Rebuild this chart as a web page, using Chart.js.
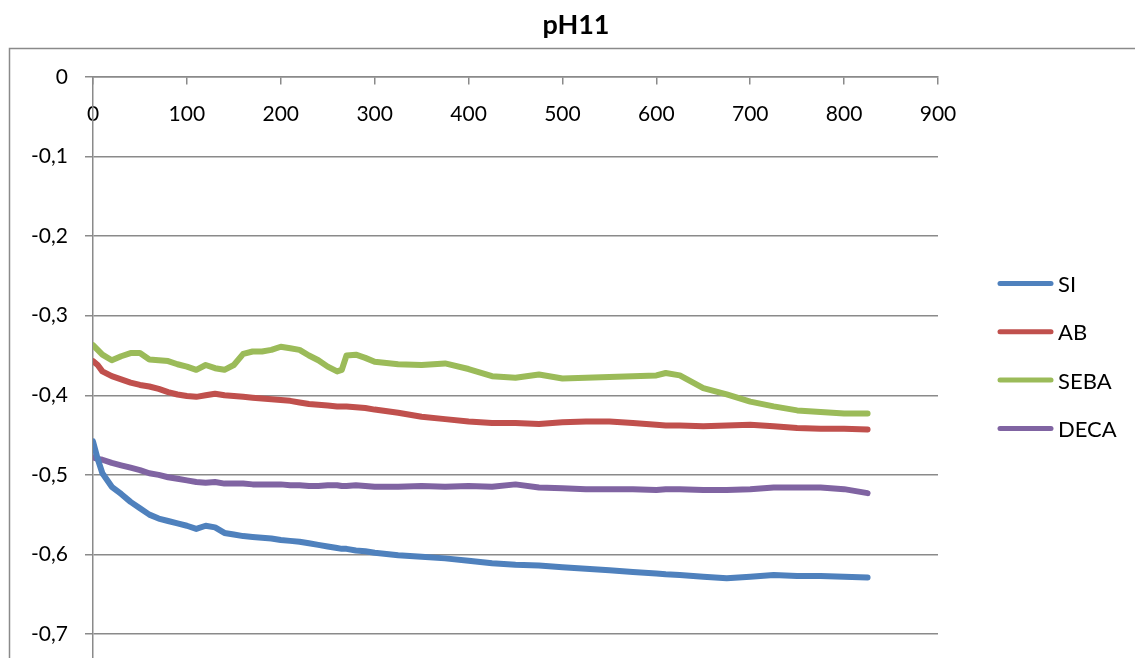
<!DOCTYPE html>
<html>
<head>
<meta charset="utf-8">
<script src="https://cdn.jsdelivr.net/npm/chart.js@4/dist/chart.umd.min.js"></script>
<style>
  html, body { margin: 0; padding: 0; background: #fff; overflow: hidden; }
  #wrap { width: 1135px; height: 658px; position: relative; }
</style>
</head>
<body>
<div id="wrap"><canvas id="c" width="1135" height="658"></canvas></div>
<script>
const chartTitle = 'pH11';
const seriesNames = ['SI', 'AB', 'SEBA', 'DECA'];
const seriesColors = ['#4F81BD', '#C0504D', '#9BBB59', '#8064A2'];
const xTicks = [0, 100, 200, 300, 400, 500, 600, 700, 800, 900];
const yTicks = [-0.7, -0.6, -0.5, -0.4, -0.3, -0.2, -0.1, 0];

const xValues = [0,5,10,20,30,40,50,60,70,80,90,100,110,120,130,140,150,160,170,180,190,200,210,220,230,240,250,260,265,270,280,290,300,325,350,375,400,425,450,475,500,525,550,575,600,610,625,650,675,700,725,750,775,800,825];

const siValues = [-0.458,-0.480,-0.498,-0.515,-0.524,-0.534,-0.542,-0.550,-0.555,-0.558,-0.561,-0.564,-0.568,-0.564,-0.566,-0.573,-0.575,-0.577,-0.578,-0.579,-0.580,-0.582,-0.583,-0.584,-0.586,-0.588,-0.590,-0.592,-0.593,-0.593,-0.595,-0.596,-0.598,-0.601,-0.603,-0.605,-0.608,-0.611,-0.613,-0.614,-0.616,-0.618,-0.620,-0.622,-0.624,-0.625,-0.626,-0.628,-0.630,-0.628,-0.626,-0.627,-0.627,-0.628,-0.629];

const abValues = [-0.357,-0.362,-0.370,-0.376,-0.380,-0.384,-0.387,-0.389,-0.392,-0.396,-0.399,-0.401,-0.402,-0.400,-0.398,-0.400,-0.401,-0.402,-0.403,-0.404,-0.405,-0.406,-0.407,-0.409,-0.411,-0.412,-0.413,-0.414,-0.414,-0.414,-0.415,-0.416,-0.418,-0.422,-0.427,-0.430,-0.433,-0.435,-0.435,-0.436,-0.434,-0.433,-0.433,-0.435,-0.437,-0.438,-0.438,-0.439,-0.438,-0.437,-0.439,-0.441,-0.442,-0.442,-0.443];

const sebaValues = [-0.337,-0.343,-0.349,-0.356,-0.351,-0.347,-0.347,-0.355,-0.356,-0.357,-0.361,-0.364,-0.368,-0.362,-0.366,-0.368,-0.362,-0.348,-0.345,-0.345,-0.343,-0.339,-0.341,-0.343,-0.350,-0.356,-0.364,-0.370,-0.368,-0.350,-0.349,-0.353,-0.358,-0.361,-0.362,-0.360,-0.367,-0.376,-0.378,-0.374,-0.379,-0.378,-0.377,-0.376,-0.375,-0.372,-0.375,-0.391,-0.399,-0.408,-0.414,-0.419,-0.421,-0.423,-0.423];

const decaValues = [-0.478,-0.480,-0.481,-0.485,-0.488,-0.491,-0.494,-0.498,-0.500,-0.503,-0.505,-0.507,-0.509,-0.510,-0.509,-0.511,-0.511,-0.511,-0.512,-0.512,-0.512,-0.512,-0.513,-0.513,-0.514,-0.514,-0.513,-0.513,-0.514,-0.514,-0.513,-0.514,-0.515,-0.515,-0.514,-0.515,-0.514,-0.515,-0.512,-0.516,-0.517,-0.518,-0.518,-0.518,-0.519,-0.518,-0.518,-0.519,-0.519,-0.518,-0.516,-0.516,-0.516,-0.518,-0.523];

const allValues = [siValues, abValues, sebaValues, decaValues];

const GRID = '#8a8a8a';
const FONT = 'Lato, "Open Sans", sans-serif';

const datasets = seriesNames.map((name, i) => ({
  label: name,
  data: xValues.map((x, j) => ({ x: x, y: allValues[i][j] })),
  borderColor: seriesColors[i],
  backgroundColor: seriesColors[i],
  borderWidth: 6,
  pointRadius: 0,
  tension: 0,
  fill: false,
  borderCapStyle: 'round',
  borderJoinStyle: 'round'
}));

const decorPlugin = {
  id: 'decor',
  beforeDraw(chart) {
    const ctx = chart.ctx;
    ctx.save();
    ctx.strokeStyle = GRID;
    ctx.lineWidth = 1.5;
    ctx.beginPath();
    ctx.moveTo(9.5, 660);
    ctx.lineTo(9.5, 48.5);
    ctx.lineTo(1140, 48.5);
    ctx.stroke();
    ctx.fillStyle = '#000';
    ctx.font = 'bold 27px ' + FONT;
    ctx.textAlign = 'center';
    ctx.textBaseline = 'alphabetic';
    ctx.fillText(chartTitle, 576, 34);
    ctx.restore();
  },
  afterDraw(chart) {
    const ctx = chart.ctx;
    ctx.save();
    chart.data.datasets.forEach((ds, i) => {
      const y = 283.5 + i * 48.3;
      ctx.strokeStyle = ds.borderColor;
      ctx.lineWidth = 5;
      ctx.lineCap = 'round';
      ctx.beginPath();
      ctx.moveTo(1000, y);
      ctx.lineTo(1051, y);
      ctx.stroke();
      ctx.fillStyle = '#000';
      ctx.font = '22px ' + FONT;
      ctx.textAlign = 'left';
      ctx.textBaseline = 'alphabetic';
      ctx.fillText(ds.label, 1058, y + 8.5);
    });
    ctx.restore();
  }
};

new Chart(document.getElementById('c'), {
  type: 'line',
  data: { datasets },
  plugins: [decorPlugin],
  options: {
    responsive: false,
    animation: false,
    events: [],
    layout: { padding: { top: 77, right: 197, bottom: 0, left: 0 } },
    plugins: { legend: { display: false }, title: { display: false }, tooltip: { enabled: false } },
    scales: {
      x: {
        type: 'linear',
        position: { y: 0 },
        min: 0,
        max: 900,
        afterFit(scale) { scale.height = 0; scale.paddingLeft = 0; scale.paddingRight = 0; },
        afterBuildTicks(scale) { scale.ticks = xTicks.map(v => ({ value: v })); },
        ticks: { color: '#000', font: { family: FONT, size: 21 }, padding: 18, maxRotation: 0, autoSkip: false },
        grid: { display: true, drawOnChartArea: false, drawTicks: true, tickLength: 7, color: GRID, lineWidth: 1.5 },
        border: { display: true, color: GRID, width: 1.5 }
      },
      y: {
        type: 'linear',
        position: 'left',
        min: -0.7302,
        max: 0,
        afterFit(scale) { scale.width = 93; scale.paddingTop = 0; scale.paddingBottom = 0; },
        afterBuildTicks(scale) { scale.ticks = yTicks.map(v => ({ value: v })); },
        ticks: {
          color: '#000',
          font: { family: FONT, size: 21 },
          padding: 17,
          callback: (v) => (Math.abs(v) < 1e-9 ? '0' : v.toFixed(1).replace('.', ','))
        },
        grid: { display: true, drawOnChartArea: true, drawTicks: true, tickLength: 8, color: GRID, lineWidth: 1.5 },
        border: { display: true, color: GRID, width: 1.5 }
      }
    }
  }
});
</script>
</body>
</html>
